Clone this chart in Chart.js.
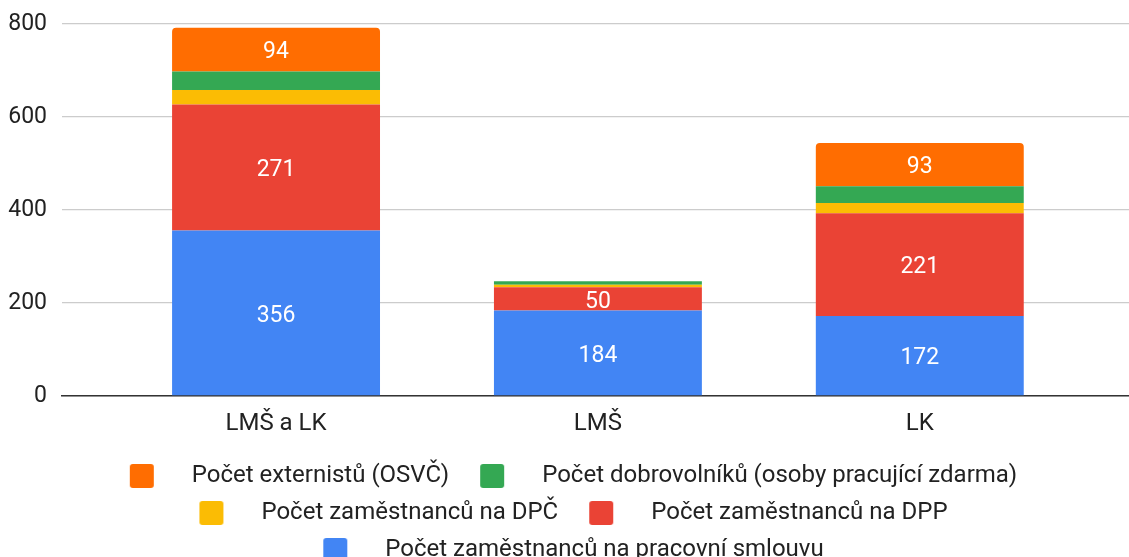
<!DOCTYPE html>
<html><head><meta charset="utf-8">
<script src="https://cdn.jsdelivr.net/npm/chart.js@4.4.0/dist/chart.umd.min.js"></script>
<style>html,body{margin:0;padding:0;background:#fff;overflow:hidden}
#wrap{position:relative;width:1129px;height:572px}</style>
</head><body><div id="wrap"><canvas id="c"></canvas></div>
<script>
const categories = ['LMŠ a LK', 'LMŠ', 'LK'];
const seriesNames = [
  'Počet zaměstnanců na pracovní smlouvu',
  'Počet zaměstnanců na DPP',
  'Počet zaměstnanců na DPČ',
  'Počet dobrovolníků (osoby pracující zdarma)',
  'Počet externistů (OSVČ)'
];
const pracovniSmlouva = [356, 184, 172];
const dpp = [271, 50, 221];
const dpc = [31, 5, 22];
const dobrovolnici = [40, 8, 36];
const externisti = [94, 0, 93];
const yTicks = [0, 200, 400, 600, 800];
const colors = ['#4285F4', '#EA4335', '#FBBC04', '#34A853', '#FF6D01'];

const FONT = 'Roboto';
const seriesValues = [pracovniSmlouva, dpp, dpc, dobrovolnici, externisti];

function legendSwatch(color) {
  const L = 18, S = 24, R = 26;
  const cv = document.createElement('canvas');
  cv.width = L + S + R; cv.height = S;
  const g = cv.getContext('2d');
  g.fillStyle = color;
  g.beginPath();
  if (g.roundRect) g.roundRect(L, 0, S, S, 3); else g.rect(L, 0, S, S);
  g.fill();
  return cv;
}
const swatches = colors.map(legendSwatch);

const valueLabels = {
  id: 'valueLabels',
  afterDatasetsDraw(chart) {
    const ctx = chart.ctx;
    ctx.save();
    ctx.font = '23px ' + FONT;
    ctx.fillStyle = '#ffffff';
    ctx.textAlign = 'center';
    ctx.textBaseline = 'middle';
    chart.data.datasets.forEach((ds, i) => {
      const meta = chart.getDatasetMeta(i);
      meta.data.forEach((bar, j) => {
        const v = ds.data[j].y;
        const h = Math.abs(bar.base - bar.y);
        if (!v || h < 20) return;
        ctx.fillText(String(v), bar.x, (bar.y + bar.base) / 2 + 3);
      });
    });
    ctx.restore();
  }
};

new Chart(document.getElementById('c'), {
  type: 'bar',
  data: {
    datasets: seriesValues.map((vals, i) => ({
      label: seriesNames[i],
      data: vals.map((v, j) => ({ x: j, y: v })),
      backgroundColor: colors[i],
      borderWidth: 0,
      borderRadius: i === 4 ? 4 : 0,
      barPercentage: 0.646,
      categoryPercentage: 1
    }))
  },
  options: {
    responsive: true,
    maintainAspectRatio: false,
    animation: false,
    layout: { padding: { left: 0, right: 0, top: 24, bottom: 0 } },
    plugins: {
      tooltip: { enabled: false },
      legend: {
        position: 'bottom',
        reverse: true,
        labels: {
          usePointStyle: true,
          pointStyleWidth: 68,
          padding: 13,
          color: '#222',
          font: { family: FONT, size: 24 },
          generateLabels(chart) {
            const items = Chart.defaults.plugins.legend.labels.generateLabels(chart);
            items.forEach(it => { it.pointStyle = swatches[it.datasetIndex]; it.lineWidth = 0; });
            return items;
          }
        }
      }
    },
    scales: {
      x: {
        type: 'linear',
        stacked: true,
        offset: false,
        min: -0.665,
        max: 2.65,
        grid: { display: false, offset: false },
        border: { display: true, color: '#333', width: 1.5 },
        afterFit(s) { s.height = 55; s.paddingLeft = 0; s.paddingRight = 0; },
        ticks: {
          stepSize: 1,
          includeBounds: false,
          autoSkip: false,
          maxRotation: 0,
          padding: 6,
          color: '#222',
          font: { family: FONT, size: 24 },
          callback: v => (Number.isInteger(v) && categories[v] !== undefined) ? categories[v] : ''
        }
      },
      y: {
        stacked: true,
        min: 0,
        max: 800,
        afterBuildTicks(s) { s.ticks = yTicks.map(v => ({ value: v })); },
        afterFit(s) { s.width = 62; s.paddingTop = 0; s.paddingBottom = 0; },
        grid: { color: '#cccccc', lineWidth: 1.3, drawTicks: false },
        border: { display: false },
        ticks: { padding: 15, color: '#222', font: { family: FONT, size: 23 } }
      }
    }
  },
  plugins: [valueLabels]
});
</script>
</body></html>
